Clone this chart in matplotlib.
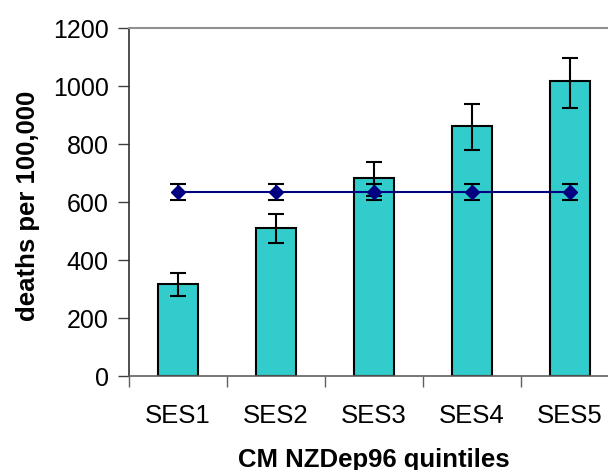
import numpy as np
import matplotlib
matplotlib.use("Agg")
import matplotlib.pyplot as plt

plt.rcParams["font.family"] = ["Liberation Sans", "DejaVu Sans"]

# data
quintiles = ["SES1", "SES2", "SES3", "SES4", "SES5"]
rates = [318, 510, 683, 863, 1016]
rates_low = [276, 457, 621, 780, 925]
rates_high = [354, 560, 739, 939, 1097]
overall = [634, 634, 634, 634, 634]
overall_low = [607, 607, 607, 607, 607]
overall_high = [662, 662, 662, 662, 662]

x = np.arange(len(quintiles))
rates = np.array(rates)
overall = np.array(overall)
bar_err = [rates - np.array(rates_low), np.array(rates_high) - rates]
line_err = [overall - np.array(overall_low), np.array(overall_high) - overall]

fig = plt.figure(figsize=(6.08, 4.70), dpi=100)
# plot area runs past the right edge, like the original crop
ax = fig.add_axes([129 / 608, 94 / 470, 490 / 608, 348 / 470])

ax.bar(x, rates, width=0.41, color="#33CCCC", edgecolor="black", linewidth=1.5,
       zorder=2)
ax.errorbar(x, rates, yerr=bar_err, fmt="none", ecolor="black", elinewidth=1.5,
            capsize=5.8, capthick=1.5, zorder=3)
ax.errorbar(x, overall, yerr=line_err, color="#000080", linewidth=1.5,
            marker="D", markersize=6.8, markerfacecolor="#000080",
            markeredgecolor="#000080", ecolor="black", elinewidth=1.5,
            capsize=5.8, capthick=1.5, zorder=4)

ax.set_xlim(-0.5, 4.5)
ax.set_ylim(0, 1200)
ax.set_yticks(np.arange(0, 1201, 200))

# ticks between categories, labels centred on categories
ax.set_xticks(np.arange(-0.5, 5, 1))
ax.set_xticklabels([])
ax.set_xticks(x, minor=True)
ax.set_xticklabels(quintiles, minor=True)
ax.tick_params(axis="x", which="major", direction="out", length=8, width=1,
               color="#606060")
ax.tick_params(axis="x", which="minor", length=0, pad=20, labelsize=18.5)
ax.tick_params(axis="y", direction="out", length=8, width=1, color="#404040",
               labelsize=18, pad=6.5)

ax.spines["left"].set_color("#303030")
ax.spines["left"].set_linewidth(1.2)
ax.spines["bottom"].set_color("#606060")
ax.spines["bottom"].set_linewidth(1.2)
ax.spines["top"].set_color("#909090")
ax.spines["top"].set_linewidth(1.5)
ax.spines["right"].set_visible(False)

ax.set_ylabel("deaths per 100,000", fontsize=18.5, fontweight="bold")
ax.yaxis.set_label_coords(-89 / 490, 0.49)
ax.set_xlabel("CM NZDep96 quintiles", fontsize=18.5, fontweight="bold")
ax.xaxis.set_label_coords(0.5, -0.207)

fig.savefig("out.png", dpi=100)
